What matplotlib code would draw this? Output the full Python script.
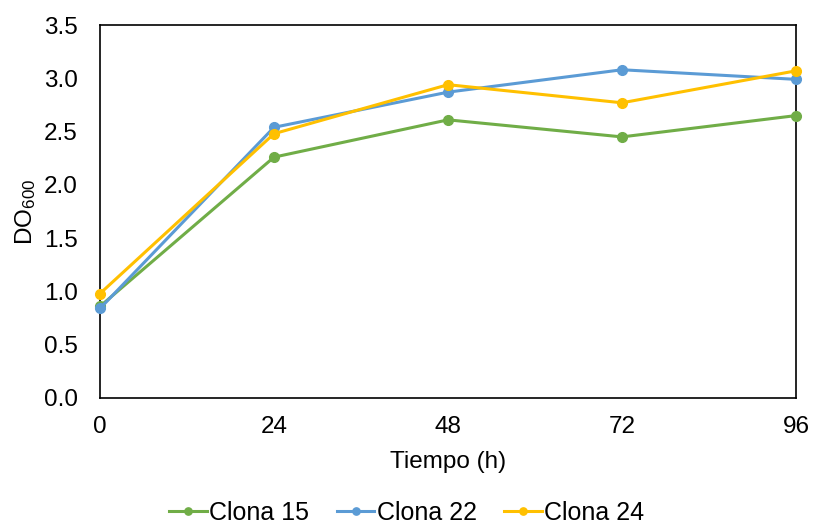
import matplotlib
matplotlib.use("Agg")
import matplotlib.pyplot as plt

plt.rcParams['font.family'] = ['Liberation Sans', 'DejaVu Sans']
plt.rcParams['mathtext.default'] = 'regular'

hours = [0, 24, 48, 72, 96]
clona15 = [0.86, 2.26, 2.61, 2.45, 2.65]
clona22 = [0.84, 2.54, 2.87, 3.08, 2.99]
clona24 = [0.98, 2.48, 2.94, 2.77, 3.07]
names = ["Clona 15", "Clona 22", "Clona 24"]
colors = ["#70AD47", "#5B9BD5", "#FFC000"]

FS = 17.5

fig = plt.figure(figsize=(8.14, 5.27), dpi=100)
ax = fig.add_axes([100/814, 1-398/527, 696/814, 373/527])

for ys, name, c in zip([clona15, clona22, clona24], names, colors):
    ax.plot(hours, ys, color=c, lw=2.2, marker='o', markersize=7, label=name,
            clip_on=False, zorder=3)

ax.set_xlim(0, 96)
ax.set_ylim(0, 3.5)
ax.set_xticks(hours)
yt = [0, 0.5, 1.0, 1.5, 2.0, 2.5, 3.0, 3.5]
ax.set_yticks(yt)
ax.set_yticklabels([f"{v:.1f}" for v in yt])
ax.tick_params(axis='x', length=0, labelsize=FS, colors='black', pad=13)
ax.tick_params(axis='y', length=0, labelsize=FS, colors='black', pad=16)
for s in ax.spines.values():
    s.set_color('black')
    s.set_linewidth(1.2)
ax.set_xlabel("Tiempo (h)", fontsize=FS, labelpad=9)
ax.set_ylabel("DO$_{600}$", fontsize=FS, labelpad=4)

fig.legend(loc='center', bbox_to_anchor=(0.5, 1-513/527), ncol=3, frameon=False,
           fontsize=18, handlelength=1.5, handletextpad=0.1, columnspacing=1.1,
           markerscale=0.75, borderpad=0)

fig.savefig("out.png", dpi=100)
